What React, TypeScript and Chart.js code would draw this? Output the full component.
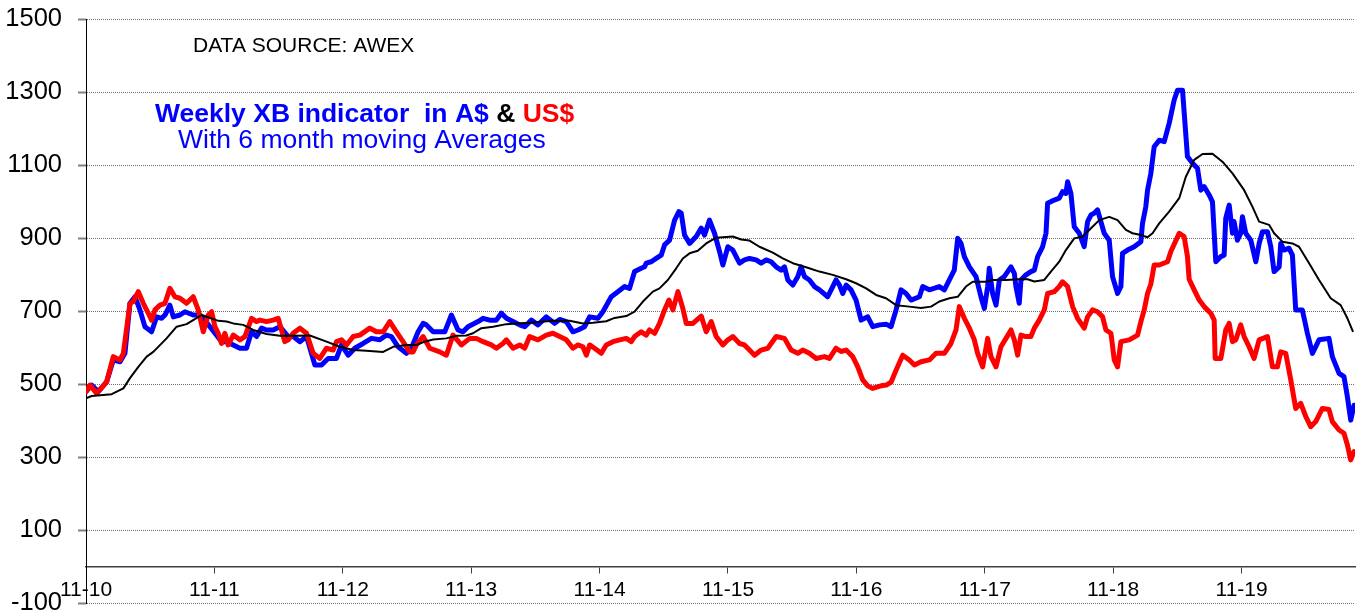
import React, { useEffect, useRef } from 'react';
import { Chart, registerables } from 'chart.js';

Chart.register(...registerables);

const FONT = "'Liberation Sans', Arial, Helvetica, sans-serif";

// x positions are months elapsed since November 2010
const xTickMonths = [0, 12, 24, 36, 48, 60, 72, 84, 96, 108];
const xTickLabels = ['11-10', '11-11', '11-12', '11-13', '11-14', '11-15', '11-16', '11-17', '11-18', '11-19'];
const yTicks = [-100, 100, 300, 500, 700, 900, 1100, 1300, 1500];

const sourceText = 'DATA SOURCE: AWEX';
const titleParts = [
  { text: 'Weekly XB indicator  in A$', color: '#0000FF' },
  { text: ' & ', color: '#000000' },
  { text: 'US$', color: '#FF0000' },
];
const subtitleText = 'With 6 month moving Averages';

// Weekly XB indicator in A$ (blue)
const audMonths = [
  0, 0.53, 1.15, 1.93, 2.55, 3.18, 3.64, 4.11, 4.58, 5.04,
  5.51, 6.13, 6.6, 7.07, 7.38, 7.84, 8.16, 8.78, 9.25, 10.02,
  10.65, 11.11, 11.58, 12.2, 12.67, 13.14, 13.76, 14.38, 15.0, 15.47,
  15.94, 16.41, 16.87, 17.49, 18.12, 18.9, 19.36, 19.99, 20.61, 21.39,
  22.01, 22.63, 23.41, 23.88, 24.5, 25.12, 25.9, 26.68, 27.46, 28.08,
  28.55, 29.17, 29.95, 30.41, 31.04, 31.5, 31.81, 32.44, 33.53, 34.15,
  34.77, 35.24, 35.7, 36.64, 37.11, 37.73, 38.35, 38.82, 39.29, 39.91,
  40.53, 41.0, 41.62, 42.24, 43.02, 43.8, 44.27, 44.89, 45.51, 45.98,
  46.6, 47.07, 47.85, 48.31, 49.09, 49.71, 50.34, 50.8, 51.27, 51.89,
  52.2, 52.36, 52.83, 53.29, 53.76, 54.07, 54.54, 55.01, 55.41, 55.63,
  55.94, 56.41, 57.03, 57.5, 57.81, 58.27, 58.74, 59.21, 59.52, 59.99,
  60.45, 61.08, 61.54, 62.01, 62.63, 63.1, 63.57, 64.03, 64.5, 64.97,
  65.28, 65.59, 66.06, 66.52, 66.83, 67.15, 67.61, 68.08, 68.55, 69.32,
  69.79, 70.1, 70.42, 70.73, 71.04, 71.5, 71.97, 72.44, 73.06, 73.53,
  74.15, 74.77, 75.24, 75.71, 76.17, 76.64, 77.11, 77.89, 78.2, 78.82,
  79.75, 80.22, 80.69, 81.15, 81.47, 81.78, 82.09, 82.56, 83.18, 83.64,
  83.96, 84.27, 84.42, 84.73, 85.05, 85.36, 85.82, 86.45, 86.76, 86.91,
  87.22, 87.38, 87.85, 88.31, 88.63, 88.94, 89.4, 89.72, 89.87, 90.49,
  90.96, 91.27, 91.58, 91.74, 92.05, 92.36, 92.83, 93.29, 93.61, 93.92,
  94.23, 94.54, 94.85, 95.16, 95.63, 95.94, 96.41, 96.72, 96.87, 97.34,
  97.96, 98.59, 98.74, 99.05, 99.21, 99.52, 99.83, 100.3, 100.77, 101.23,
  101.7, 102.01, 102.48, 102.94, 103.41, 103.88, 104.19, 104.5, 104.97, 105.28,
  105.59, 106.06, 106.37, 106.52, 106.84, 107.15, 107.3, 107.61, 107.92, 108.08,
  108.39, 108.86, 109.33, 109.64, 109.95, 110.42, 110.73, 111.04, 111.51, 111.66,
  111.97, 112.44, 112.75, 113.06, 113.68, 114.15, 114.62, 115.24, 116.17, 116.48,
  117.11, 117.57, 117.89, 118.2, 118.51,
];
const audValues = [
  479, 497, 479, 506, 566, 561, 584, 721, 739, 703,
  657, 643, 684, 680, 689, 716, 684, 689, 698, 689,
  689, 675, 657, 634, 616, 616, 607, 598, 598, 643,
  630, 653, 648, 648, 657, 630, 630, 616, 630, 552,
  552, 570, 570, 607, 579, 598, 611, 625, 621, 634,
  630, 602, 584, 598, 643, 666, 662, 643, 643, 689,
  648, 643, 657, 671, 680, 675, 675, 694, 680, 671,
  662, 657, 675, 662, 684, 666, 677, 671, 643, 648,
  657, 684, 680, 698, 739, 753, 767, 762, 808, 817,
  821, 831, 835, 844, 853, 881, 894, 949, 972, 968,
  908, 885, 904, 927, 908, 949, 913, 863, 826, 876,
  867, 831, 840, 844, 840, 831, 840, 835, 821, 812,
  821, 785, 771, 794, 821, 794, 785, 767, 758, 739,
  767, 785, 771, 748, 771, 758, 730, 675, 684, 657,
  662, 664, 657, 703, 758, 748, 730, 739, 767, 758,
  767, 758, 785, 812, 899, 885, 849, 821, 794, 739,
  707, 767, 817, 748, 716, 785, 794, 821, 803, 767,
  721, 785, 799, 808, 812, 849, 876, 913, 995, 1004,
  1009, 1027, 1022, 1054, 1022, 931, 913, 876, 945, 963,
  968, 977, 945, 913, 894, 794, 748, 767, 858, 867,
  876, 890, 940, 986, 1031, 1077, 1150, 1168, 1164, 1214,
  1278, 1305, 1305, 1123, 1105, 1091, 1031, 1041, 1018, 999,
  835, 849, 853, 954, 990, 913, 945, 894, 913, 958,
  913, 894, 835, 885, 917, 917, 876, 808, 821, 885,
  867, 872, 853, 703, 703, 639, 584, 621, 625, 575,
  529, 520, 465, 401, 442,
];

// Weekly XB indicator in US$ (red)
const usdMonths = [
  0, 0.37, 1.0, 1.93, 2.55, 3.18, 3.49, 4.11, 4.42, 4.89,
  5.35, 5.82, 6.13, 6.44, 6.91, 7.38, 7.84, 8.31, 8.78, 9.4,
  10.02, 10.49, 10.96, 11.42, 11.74, 12.05, 12.36, 12.67, 12.98, 13.29,
  13.76, 14.38, 14.85, 15.47, 15.94, 16.25, 16.87, 17.49, 17.96, 18.58,
  18.9, 19.36, 19.99, 20.61, 21.23, 21.85, 22.48, 23.1, 23.41, 23.88,
  24.34, 24.97, 25.59, 26.52, 27.14, 27.77, 28.39, 29.01, 29.63, 30.26,
  30.57, 30.88, 31.5, 32.13, 33.06, 33.68, 34.3, 35.08, 35.86, 36.48,
  37.11, 37.88, 38.35, 38.97, 39.29, 39.91, 40.53, 41.0, 41.46, 42.24,
  43.02, 43.64, 44.27, 44.89, 45.51, 45.98, 46.44, 46.76, 47.07, 47.53,
  48.16, 48.62, 49.25, 49.87, 50.49, 50.96, 51.27, 51.89, 52.36, 52.67,
  53.14, 53.6, 54.07, 54.48, 54.85, 55.32, 55.78, 56.1, 56.72, 57.5,
  57.96, 58.43, 58.9, 59.52, 59.99, 60.45, 61.08, 61.54, 62.01, 62.48,
  63.1, 63.72, 64.5, 65.28, 65.9, 66.52, 66.99, 67.61, 68.24, 69.01,
  69.48, 70.1, 70.57, 71.04, 71.66, 72.13, 72.59, 73.06, 73.5, 74.3,
  74.8, 75.24, 75.71, 76.33, 76.95, 77.42, 78.04, 78.82, 79.44, 80.22,
  80.84, 81.31, 81.62, 82.09, 82.56, 83.02, 83.33, 83.8, 84.27, 84.58,
  85.05, 85.51, 85.98, 86.45, 86.76, 87.07, 87.38, 87.85, 88.31, 88.63,
  89.09, 89.56, 89.87, 90.49, 90.96, 91.27, 91.74, 92.21, 92.67, 93.29,
  93.61, 94.07, 94.54, 95.01, 95.32, 95.79, 96.1, 96.41, 96.72, 97.5,
  98.28, 98.59, 98.9, 99.21, 99.52, 99.83, 100.3, 101.08, 101.39, 102.17,
  102.63, 102.94, 103.1, 103.57, 104.04, 104.5, 105.12, 105.44, 105.53, 106.06,
  106.52, 106.84, 107.15, 107.46, 107.92, 108.24, 108.7, 109.17, 109.64, 110.42,
  110.88, 111.35, 111.66, 112.13, 112.6, 113.06, 113.53, 114.0, 114.46, 114.93,
  115.55, 116.17, 116.48, 117.11, 117.57, 117.89, 118.2, 118.51,
];
const usdValues = [
  479, 497, 474, 506, 575, 566, 584, 721, 726, 753,
  721, 694, 675, 703, 716, 721, 762, 739, 735, 721,
  739, 703, 643, 689, 698, 657, 639, 611, 639, 607,
  634, 621, 630, 680, 671, 675, 671, 675, 680, 616,
  621, 639, 653, 639, 584, 570, 598, 593, 616, 621,
  607, 630, 634, 653, 643, 643, 671, 643, 616, 588,
  588, 607, 630, 598, 588, 579, 634, 607, 625, 625,
  616, 607, 598, 611, 621, 598, 607, 598, 630, 621,
  634, 639, 630, 621, 598, 607, 602, 579, 607, 598,
  584, 607, 616, 621, 625, 616, 630, 643, 634, 648,
  639, 666, 703, 730, 703, 753, 707, 666, 666, 686,
  643, 671, 630, 607, 621, 630, 611, 607, 593, 579,
  593, 598, 630, 625, 593, 584, 593, 584, 570, 575,
  570, 598, 589, 593, 575, 547, 511, 495, 488, 495,
  497, 505, 538, 579, 566, 552, 561, 566, 584, 584,
  611, 648, 712, 680, 653, 621, 584, 547, 625, 575,
  547, 602, 625, 648, 621, 579, 634, 630, 630, 653,
  675, 703, 748, 753, 767, 780, 767, 712, 680, 653,
  684, 703, 698, 684, 648, 639, 566, 547, 616, 621,
  634, 671, 703, 748, 774, 826, 826, 835, 863, 913,
  904, 850, 787, 758, 730, 712, 694, 675, 570, 570,
  648, 666, 616, 621, 662, 630, 602, 570, 621, 630,
  547, 547, 588, 584, 511, 433, 447, 411, 383, 397,
  433, 430, 397, 374, 365, 333, 292, 315,
];

// 6 month moving average (black)
const maMonths = [
  0, 0.53, 2.4, 3.49, 4.11, 4.89, 5.67, 6.29, 7.53, 8.47,
  9.4, 10.02, 10.8, 11.42, 12.36, 13.14, 13.76, 14.69, 15.63, 16.87,
  18.12, 19.36, 20.92, 22.48, 23.72, 24.97, 26.21, 27.77, 28.7, 29.95,
  30.88, 31.66, 32.44, 33.68, 34.62, 35.55, 36.17, 36.95, 38.04, 39.29,
  40.22, 41.46, 43.64, 45.2, 46.44, 47.38, 48.62, 49.4, 50.49, 51.27,
  52.05, 52.98, 53.6, 54.38, 55.16, 55.78, 56.41, 57.18, 57.96, 58.9,
  59.52, 60.45, 61.23, 62.01, 62.94, 64.19, 65.12, 66.06, 67.3, 68.55,
  69.79, 71.04, 71.97, 72.91, 73.84, 74.77, 75.71, 76.95, 78.04, 78.98,
  79.75, 80.69, 81.47, 82.24, 82.87, 84.11, 84.73, 85.98, 87.22, 88.0,
  88.63, 89.56, 90.18, 90.96, 91.58, 92.36, 93.14, 93.76, 94.7, 95.63,
  96.41, 97.19, 97.81, 98.59, 99.21, 99.68, 100.3, 101.23, 102.17, 102.79,
  103.57, 104.35, 105.28, 106.21, 107.15, 108.24, 109.01, 109.64, 110.57, 111.04,
  111.82, 112.75, 113.37, 114.31, 115.24, 116.33, 117.26, 117.89, 118.42,
];
const maValues = [
  461, 467, 472, 488, 516, 547, 575, 588, 625, 657,
  664, 675, 689, 683, 673, 671, 666, 662, 648, 637,
  632, 632, 633, 616, 602, 593, 591, 588, 602, 607,
  607, 616, 622, 625, 632, 633, 639, 653, 657, 664,
  666, 668, 673, 673, 666, 668, 672, 681, 686, 698,
  726, 753, 762, 785, 817, 844, 858, 865, 885, 901,
  902, 904, 896, 893, 876, 860, 844, 831, 820, 808,
  799, 787, 776, 762, 744, 735, 716, 712, 708, 712,
  726, 735, 739, 767, 780, 780, 785, 785, 787, 787,
  781, 785, 808, 835, 867, 899, 904, 922, 949, 958,
  949, 922, 913, 908, 902, 913, 940, 972, 1009, 1068,
  1114, 1130, 1131, 1109, 1077, 1031, 986, 945, 936, 913,
  890, 885, 876, 831, 785, 735, 716, 680, 643,
];

const toPoints = (xs: number[], ys: number[]) => xs.map((x, i) => ({ x, y: ys[i] }));

const textPlugin = {
  id: 'headerTexts',
  afterDraw(chart: any) {
    const ctx = chart.ctx as CanvasRenderingContext2D;
    ctx.save();
    ctx.textAlign = 'left';
    ctx.textBaseline = 'alphabetic';
    ctx.font = `21px ${FONT}`;
    ctx.fillStyle = '#000000';
    ctx.fillText(sourceText, 193, 52);
    ctx.font = `bold 26.5px ${FONT}`;
    let x = 155;
    for (const part of titleParts) {
      ctx.fillStyle = part.color;
      ctx.fillText(part.text, x, 122);
      x += ctx.measureText(part.text).width;
    }
    ctx.font = `26.5px ${FONT}`;
    ctx.fillStyle = '#0000FF';
    ctx.fillText(subtitleText, 178, 148);
    ctx.restore();
  },
};

export default function App() {
  const canvasRef = useRef<HTMLCanvasElement | null>(null);

  useEffect(() => {
    if (!canvasRef.current) return;
    Chart.defaults.font.family = FONT;
    const chart = new Chart(canvasRef.current, {
      type: 'line',
      data: {
        datasets: [
          {
            label: '6 month moving average',
            data: toPoints(maMonths, maValues),
            borderColor: '#000000',
            borderWidth: 2,
            pointRadius: 0,
            tension: 0,
            fill: false,
            borderJoinStyle: 'round',
          },
          {
            label: 'US$',
            data: toPoints(usdMonths, usdValues),
            borderColor: '#FF0000',
            borderWidth: 5,
            pointRadius: 0,
            tension: 0,
            fill: false,
            borderJoinStyle: 'round',
            borderCapStyle: 'round',
          },
          {
            label: 'A$',
            data: toPoints(audMonths, audValues),
            borderColor: '#0000FF',
            borderWidth: 5,
            pointRadius: 0,
            tension: 0,
            fill: false,
            borderJoinStyle: 'round',
            borderCapStyle: 'round',
          },
        ],
      },
      options: {
        responsive: false,
        animation: false,
        events: [],
        layout: { padding: { top: 19, right: 8, bottom: 11, left: 0 } },
        plugins: {
          legend: { display: false },
          tooltip: { enabled: false },
          title: { display: false },
        },
        scales: {
          x: {
            type: 'linear',
            min: 0,
            max: 118.6,
            position: { y: 0 } as any,
            afterBuildTicks: (s: any) => {
              s.ticks = xTickMonths.map((v) => ({ value: v }));
            },
            grid: {
              drawOnChartArea: false,
              drawTicks: true,
              tickLength: 6,
              tickColor: '#404040',
              tickWidth: 1,
            },
            border: { display: true, color: '#404040', width: 1.5 },
            ticks: {
              autoSkip: false,
              maxRotation: 0,
              padding: 5,
              color: '#000000',
              font: { size: 21 },
              callback: (_v: any, i: number) => xTickLabels[i],
            },
          },
          y: {
            type: 'linear',
            min: -100,
            max: 1500,
            afterBuildTicks: (s: any) => {
              s.ticks = yTicks.map((v) => ({ value: v }));
            },
            afterFit: (s: any) => {
              s.width = 86;
              s.paddingTop = 0;
              s.paddingBottom = 0;
            },
            grid: {
              color: '#707070',
              lineWidth: 1,
              drawTicks: true,
              tickLength: 8,
              tickColor: '#808080',
              tickWidth: 2,
              tickBorderDash: [],
            } as any,
            border: { display: true, color: '#000000', width: 1, dash: [1, 1] },
            ticks: {
              padding: 16,
              color: '#000000',
              font: { size: 25.5 },
              callback: (v: any) => String(v),
            },
          },
        },
      },
      plugins: [textPlugin],
    } as any);
    return () => chart.destroy();
  }, []);

  return (
    <div style={{ position: 'fixed', left: 0, top: 0, width: 1363, height: 614, background: '#ffffff' }}>
      <canvas ref={canvasRef} width={1363} height={614} style={{ display: 'block' }} />
    </div>
  );
}
